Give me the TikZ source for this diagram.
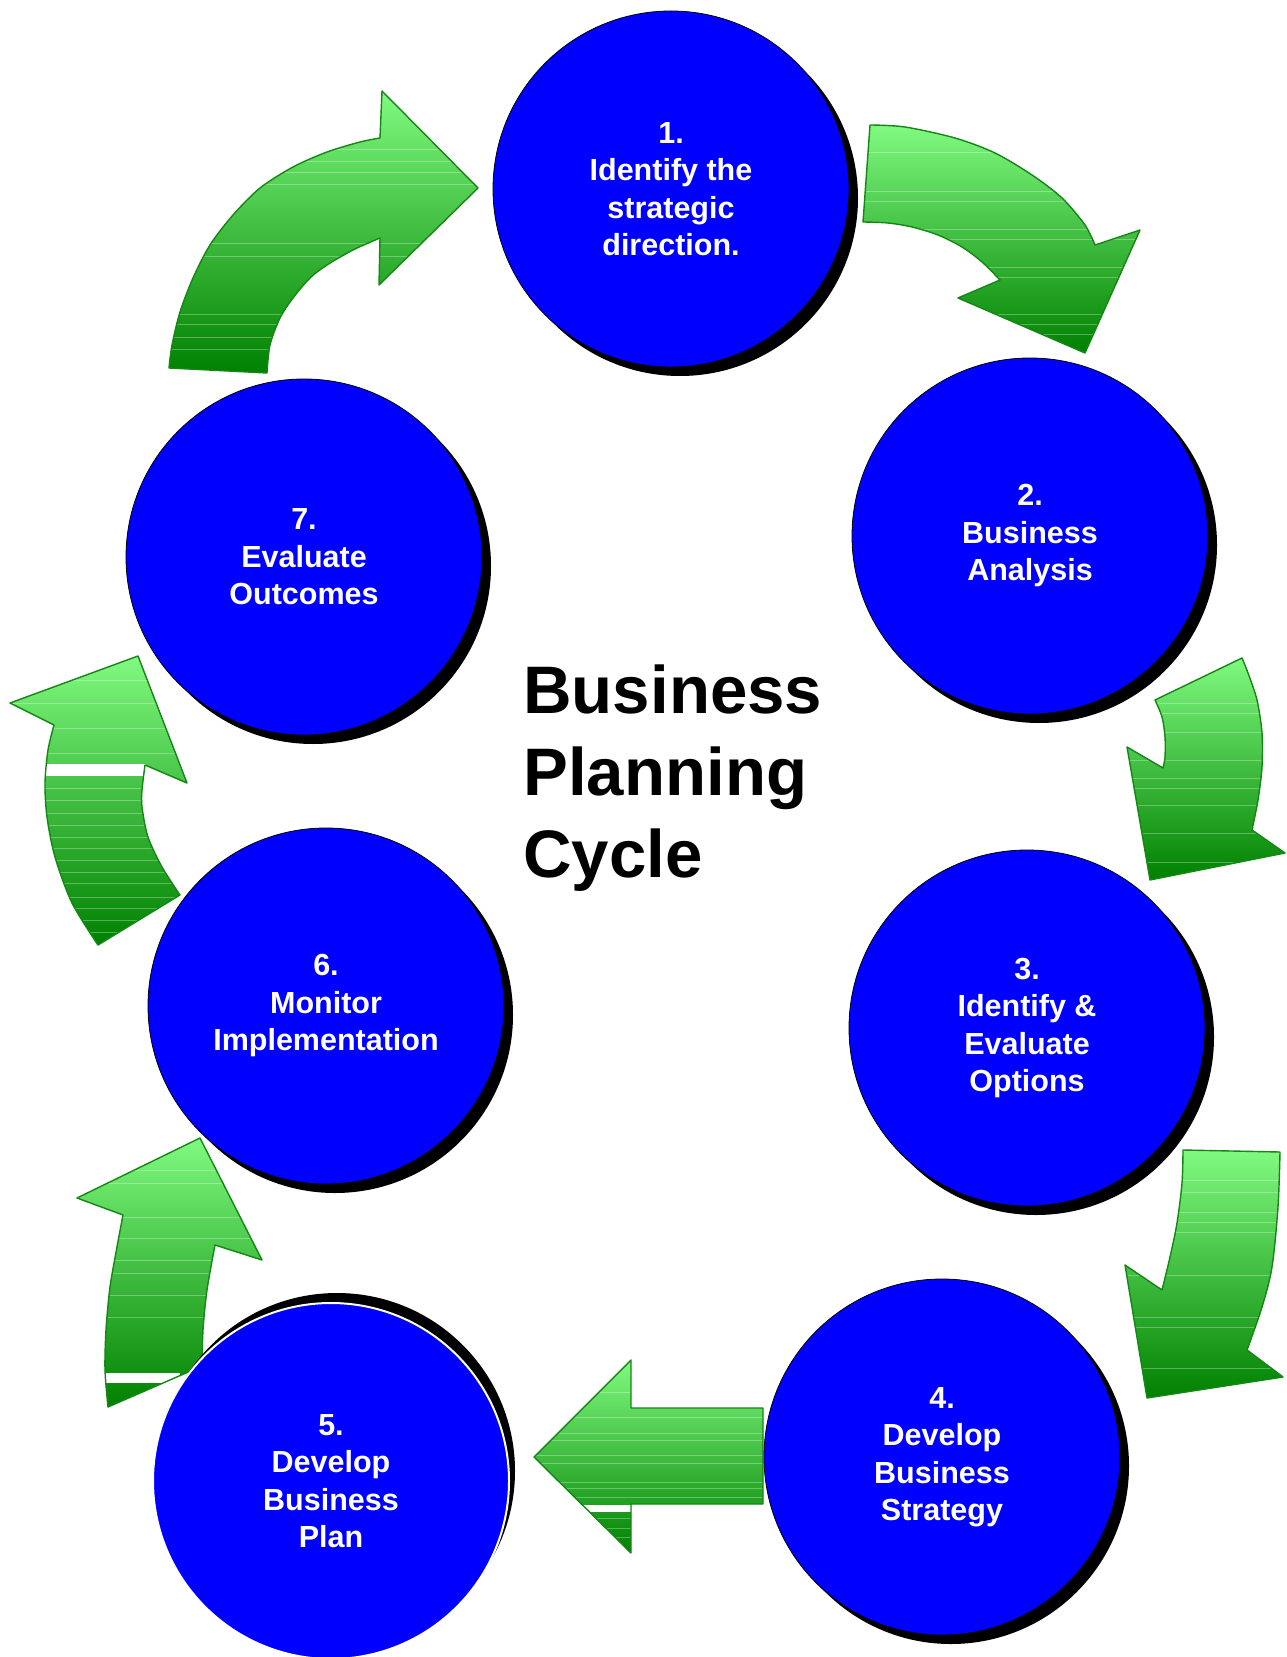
\documentclass[tikz,border=0pt]{standalone}
\usepackage{fontspec}
\setmainfont{Liberation Sans}
\usetikzlibrary{shadows}
\definecolor{stageblue}{RGB}{0,0,255}
\definecolor{arrowlight}{RGB}{128,250,128}
\definecolor{arrowdark}{RGB}{0,128,0}
\definecolor{arrowedge}{RGB}{20,135,20}

\newcommand{\greenarrow}[3]{%
  \shade[garrow] #1;
  \begin{scope}
    \clip #1;
    \foreach \yy in {#2} \draw[stripe] (0,\yy) -- (1286,\yy);
    #3
  \end{scope}
  \draw[garrowline] #1;
}

\begin{document}
\begin{tikzpicture}[x=0.5pt,y=-0.5pt,
  garrow/.style={top color=arrowlight, bottom color=arrowdark},
  garrowline/.style={draw=arrowedge, line width=0.7pt, line join=round},
  stripe/.style={white, opacity=0.3, line width=0.5pt},
  stage/.style={circle, fill=stageblue, draw=black, line width=0.4pt,
    minimum size=178pt, inner sep=0pt, align=center, text=white,
    font=\bfseries\fontsize{15.25}{18.75}\selectfont},
  shadowed/.style={drop shadow={shadow xshift=4.5pt, shadow yshift=-4.5pt, fill=black, opacity=1}},
  titletext/.style={inner sep=0pt, align=left, text=black,
    font=\bfseries\fontsize{33.6}{41}\selectfont}]
\useasboundingbox (0,0) rectangle (1286,1657);
\fill[white] (0,0) rectangle (1286,1657);

% Arrow 7 -> 1
\greenarrow{(478,188) -- (382,91) -- (380,138) -- plot[smooth] coordinates {(380,138) (360,142) (327,152) (293,167) (260,188) (233,215) (210,245) (193,278) (180,312) (172,345) (169,368)} -- (267,373) -- plot[smooth] coordinates {(267,373) (270,345) (280,318) (293,298) (310,278) (327,265) (353,250) (380,238)} -- (379,285) -- cycle}
{150,162,173,185,244,257,315,325,338,350}{}

% Arrow 1 -> 2
\greenarrow{(870,125) -- plot[smooth] coordinates {(870,125) (905,127) (955,138) (995,153) (1032,175) (1062,198) (1085,225) (1095,245)} -- (1140,230) -- (1085,353) -- (958,298) -- (1000,280) -- plot[smooth] coordinates {(1000,280) (982,262) (962,247) (938,235) (912,227) (888,223) (863,222)} -- cycle}
{153,192,202,230,240,268,278,315,325,335}{}

% Arrow 2 -> 3
\greenarrow{(1242,658) -- (1155,700) -- plot[smooth] coordinates {(1155,700) (1162,717) (1165,737) (1165,757) (1163,768)} -- (1127,747) -- (1150,880) -- (1285,853) -- (1252,830) -- plot[smooth] coordinates {(1252,830) (1258,800) (1262,767) (1262,733) (1257,700) (1248,673) (1242,658)} -- cycle}
{703,713,732,760,778,788,805,833,862}{}

% Arrow 3 -> 4
\greenarrow{(1183,1150) -- (1280,1152) -- plot[smooth] coordinates {(1280,1152) (1278,1207) (1272,1267) (1262,1307) (1247,1350)} -- (1283,1377) -- (1147,1398) -- (1125,1265) -- (1162,1290) -- plot[smooth] coordinates {(1162,1290) (1170,1257) (1177,1223) (1182,1183) (1183,1150)} -- cycle}
{1180,1192,1212,1222,1232,1275,1317,1327,1368}{}

% Arrow 4 -> 5
\greenarrow{(534,1457) -- (631,1360) -- (631,1408) -- (763,1408) -- (763,1504) -- (631,1504) -- (631,1553) -- cycle}
{1392,1417,1433,1440,1455,1463,1482,1488,1497,1518,1528,1537}
{\fill[white] (570,1505) rectangle (631,1512);}

% Arrow 5 -> 6
\greenarrow{(200,1138) -- (77,1198) -- (123,1215) -- plot[smooth] coordinates {(123,1215) (117,1247) (110,1287) (106,1330) (105,1370) (108,1407)} -- (202,1366) -- plot[smooth] coordinates {(202,1366) (203,1330) (207,1290) (215,1245)} -- (262,1260) -- cycle}
{1170,1183,1217,1238,1260,1273,1295,1317}
{\fill[white] (90,1373) rectangle (180,1383);}

% Arrow 6 -> 7
\greenarrow{(138,656) -- (10,703) -- (54,725) -- plot[smooth] coordinates {(54,725) (48,750) (45,783) (47,817) (55,857) (72,903) (98,945)} -- (180,895) -- plot[smooth] coordinates {(180,895) (162,867) (148,837) (142,807) (142,790) (145,765)} -- (187,783) -- cycle}
{680,703,728,753,788,800,813,825,837,848,860,872,883,897,908,920,932}
{\fill[white] (30,764) rectangle (146,776);}

% Stages
\node[stage, shadowed] (s1) at (671,189) {1.\\Identify the\\strategic\\direction.};
\node[stage, shadowed] (s2) at (1030,536) {2.\\Business\\Analysis};
\node[stage, shadowed] (s3) at (1027,1028) {3.\\Identify \&\\Evaluate\\Options};
\node[stage, shadowed] (s4) at (942,1457) {4.\\Develop\\Business\\Strategy};
\node[stage, draw=white, line width=1pt,
  drop shadow={shadow xshift=3pt, shadow yshift=5pt, fill=black, opacity=1}]
  (s5) at (331,1481) {5.\\Develop\\Business\\Plan};
\node[stage, shadowed] (s6) at (326,1006) {6.\\Monitor\\Implementation};
\node[stage, shadowed] (s7) at (304,557) {7.\\Evaluate\\Outcomes};

% Title
\node[titletext, anchor=north west] (title) at (523,664) {Business\\Planning\\Cycle};
\end{tikzpicture}
\end{document}
